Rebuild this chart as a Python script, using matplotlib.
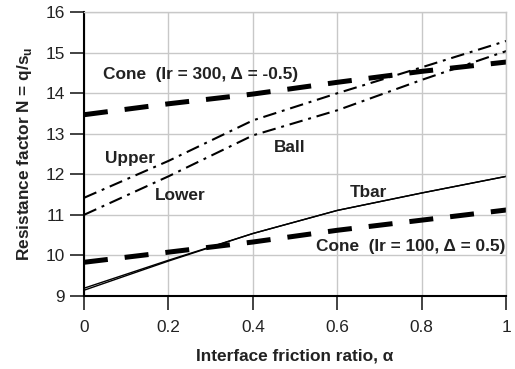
import matplotlib
matplotlib.use("Agg")
import matplotlib.pyplot as plt

plt.rcParams["font.family"] = ["Liberation Sans", "DejaVu Sans"]
plt.rcParams["mathtext.fontset"] = "custom"
plt.rcParams["mathtext.bf"] = "Liberation Sans:bold"
plt.rcParams["mathtext.rm"] = "Liberation Sans"

# interface friction ratio
alpha = [0.0, 0.2, 0.4, 0.6, 0.8, 1.0]

# resistance factors
cone_300 = [13.47, 13.74, 13.98, 14.27, 14.54, 14.77]
ball_upper = [11.42, 12.33, 13.33, 14.0, 14.64, 15.29]
ball_lower = [11.0, 11.95, 12.96, 13.58, 14.33, 15.04]
tbar_a = [9.19, 9.88, 10.54, 11.11, 11.54, 11.95]
tbar_b = [9.14, 9.86, 10.54, 11.11, 11.54, 11.95]
cone_100 = [9.83, 10.08, 10.33, 10.62, 10.87, 11.12]

x_ticks = [0, 0.2, 0.4, 0.6, 0.8, 1]
x_labels = ["0", "0.2", "0.4", "0.6", "0.8", "1"]
y_ticks = [9, 10, 11, 12, 13, 14, 15, 16]

fig = plt.figure(figsize=(5.15, 3.69), dpi=100)
ax = fig.add_axes([0.163, 0.198, 0.82, 0.769])

grid_c = "#c8c8c8"
ax.grid(True, color=grid_c, linewidth=1.0)
ax.set_axisbelow(True)

ax.plot(alpha, cone_300, color="black", linewidth=3.6, dashes=(4.8, 3.4))
ax.plot(alpha, ball_upper, color="black", linewidth=1.5, dashes=(6.5, 2.8, 1.4, 2.8))
ax.plot(alpha, ball_lower, color="black", linewidth=1.5, dashes=(6.5, 2.8, 1.4, 2.8))
ax.plot(alpha, tbar_a, color="black", linewidth=1.0)
ax.plot(alpha, tbar_b, color="black", linewidth=1.0)
ax.plot(alpha, cone_100, color="black", linewidth=3.6, dashes=(4.8, 3.4))

ax.set_xlim(0, 1)
ax.set_ylim(9, 16)
ax.set_xticks(x_ticks)
ax.set_xticklabels(x_labels)
ax.set_yticks(y_ticks)

for side in ("top", "right"):
    ax.spines[side].set_color(grid_c)
    ax.spines[side].set_linewidth(1.0)
for side in ("left", "bottom"):
    ax.spines[side].set_color("black")
    ax.spines[side].set_linewidth(1.5)

ax.tick_params(axis="both", direction="out", length=10, width=1.2,
               labelsize=12.4, colors="#222222")
ax.tick_params(axis="y", pad=4)
ax.tick_params(axis="x", pad=7)

lab = dict(fontsize=12.4, fontweight="bold", color="#222222")
ax.set_xlabel("Interface friction ratio, α", labelpad=10, **lab)
ax.set_ylabel(r"Resistance factor N = q/s$_\mathbf{u}$", labelpad=8, **lab)

ax.text(0.045, 14.47, "Cone  (Ir = 300, Δ = -0.5)", va="center", ha="left", **lab)
ax.text(0.05, 12.4, "Upper", va="center", ha="left", **lab)
ax.text(0.168, 11.47, "Lower", va="center", ha="left", **lab)
ax.text(0.45, 12.67, "Ball", va="center", ha="left", **lab)
ax.text(0.63, 11.56, "Tbar", va="center", ha="left", **lab)
ax.text(0.55, 10.23, "Cone  (Ir = 100, Δ = 0.5)", va="center", ha="left", **lab)

fig.savefig("out.png", dpi=100)
